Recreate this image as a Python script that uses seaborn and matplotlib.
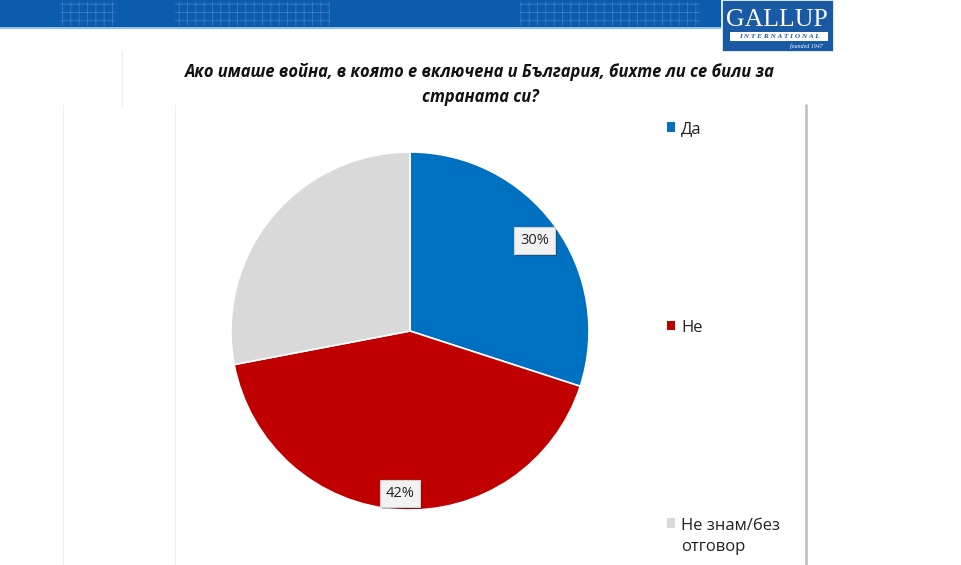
import matplotlib
matplotlib.use("Agg")
import matplotlib.pyplot as plt
import matplotlib.patheffects as pe
import seaborn as sns
import numpy as np
from matplotlib.patches import Rectangle
from matplotlib.lines import Line2D

# ---- data ----
categories = ["Да", "Не", "Не знам/без\nотговор"]
values = [30, 42, 28]
shown_labels = ["30%", "42%", ""]
colors = ["#0070c0", "#c00000", "#d9d9d9"]
title = "Ако имаше война, в която е включена и България, бихте ли се били за\nстраната си?"

sns.set_theme(style="white")
plt.rcParams["font.family"] = ["Open Sans", "DejaVu Sans"]
plt.rcParams["hatch.linewidth"] = 0.6

W, H = 962, 565
fig = plt.figure(figsize=(W / 100, H / 100), dpi=100)
fig.patch.set_facecolor("white")

def fx(px):
    return px / W

def fy(py):
    return 1 - py / H

def frect(x, y, w, h, **kw):
    fig.patches.append(Rectangle((fx(x), fy(y + h)), w / W, h / H,
                                 transform=fig.transFigure, **kw))

# ---- banner ----
frect(0, 0, 724, 28, facecolor="#0b5cad", edgecolor="none", zorder=0)
for x0, x1 in [(60, 115), (175, 330), (520, 700)]:
    frect(x0, 2, x1 - x0, 24, facecolor="none", edgecolor="#3d7cc4", hatch="++",
          linewidth=0, zorder=0.5)
frect(0, 27, 724, 2, facecolor="#8cc3e8", edgecolor="none", zorder=0.6)

# Gallup logo
frect(722, 0, 112, 52, facecolor="#1a5aa5", edgecolor="white", linewidth=1.2, zorder=2)
frect(730, 32, 98, 9, facecolor="white", edgecolor="none", zorder=3)
fig.text(fx(777), fy(20), "GALLUP", ha="center", va="center", color="white",
         fontsize=18.5, family=["Liberation Serif", "DejaVu Serif"], zorder=4)
fig.text(fx(779), fy(36.5), "I N T E R N A T I O N A L", ha="center", va="center",
         color="#1a5aa5", fontsize=5.2, style="italic", fontweight="bold",
         family=["Liberation Serif", "DejaVu Serif"], zorder=4)
fig.text(fx(823), fy(46.5), "founded 1947", ha="right", va="center", color="white",
         fontsize=4.2, style="italic", family=["Liberation Serif", "DejaVu Serif"], zorder=4)

# ---- frame lines ----
for x, y0, y1, c, lw in [(806, 105, 565, "#c4c4c4", 2.0), (63, 105, 565, "#f0f0f0", 1.0),
                         (175, 105, 565, "#f0f0f0", 1.0), (122, 50, 105, "#eeeeee", 1.0)]:
    fig.lines.append(Line2D([fx(x), fx(x)], [fy(y0), fy(y1)], transform=fig.transFigure,
                            color=c, linewidth=lw, zorder=1))

# ---- title ----
fig.text(fx(480), fy(84.5), title, ha="center", va="center", fontsize=11.9,
         fontweight="bold", style="italic", linespacing=1.55, color="#111111")

# ---- pie ----
cx, cy, r = 410, 331, 179
ax = fig.add_axes([fx(cx - r), fy(cy + r), 2 * r / W, 2 * r / H])
wedges, _ = ax.pie(values, colors=colors, startangle=90, counterclock=False,
                   wedgeprops=dict(edgecolor="white", linewidth=1.2))
ax.set_xlim(-1.0, 1.0)
ax.set_ylim(-1.0, 1.0)
ax.set_aspect("equal")
ax.axis("off")

for w, lab, d in zip(wedges, shown_labels, [0.86, 0.91, 0.85]):
    if not lab:
        continue
    ang = np.deg2rad((w.theta1 + w.theta2) / 2)
    tx, ty = d * np.cos(ang), d * np.sin(ang)
    t = ax.text(tx, ty, lab, ha="center", va="center", fontsize=10.5, color="#222222",
                bbox=dict(boxstyle="square,pad=0.4", facecolor="#f2f2f2", edgecolor="#d0d0d0",
                          linewidth=0.8))
    t.get_bbox_patch().set_path_effects([
        pe.SimplePatchShadow(offset=(1.6, -1.8), shadow_rgbFace="black", alpha=0.3),
        pe.Normal()])

# ---- legend ----
handles = [Rectangle((0, 0), 1, 1, facecolor=c, edgecolor="none") for c in colors]
leg = fig.legend(handles, categories, loc="upper left", bbox_to_anchor=(fx(667), fy(121)),
                 frameon=False, fontsize=12, handlelength=0.5, handleheight=0.5,
                 handletextpad=0.35, labelspacing=10.95, borderaxespad=0, borderpad=0)
for t in leg.get_texts():
    t.set_linespacing(1.45)
    t.set_color("#222222")
# align the handle of the two-line entry with its first line
try:
    col = leg._legend_handle_box.get_children()[0]
    col.get_children()[2].align = "top"
except Exception:
    pass

fig.savefig("out.png", dpi=100, facecolor="white")
